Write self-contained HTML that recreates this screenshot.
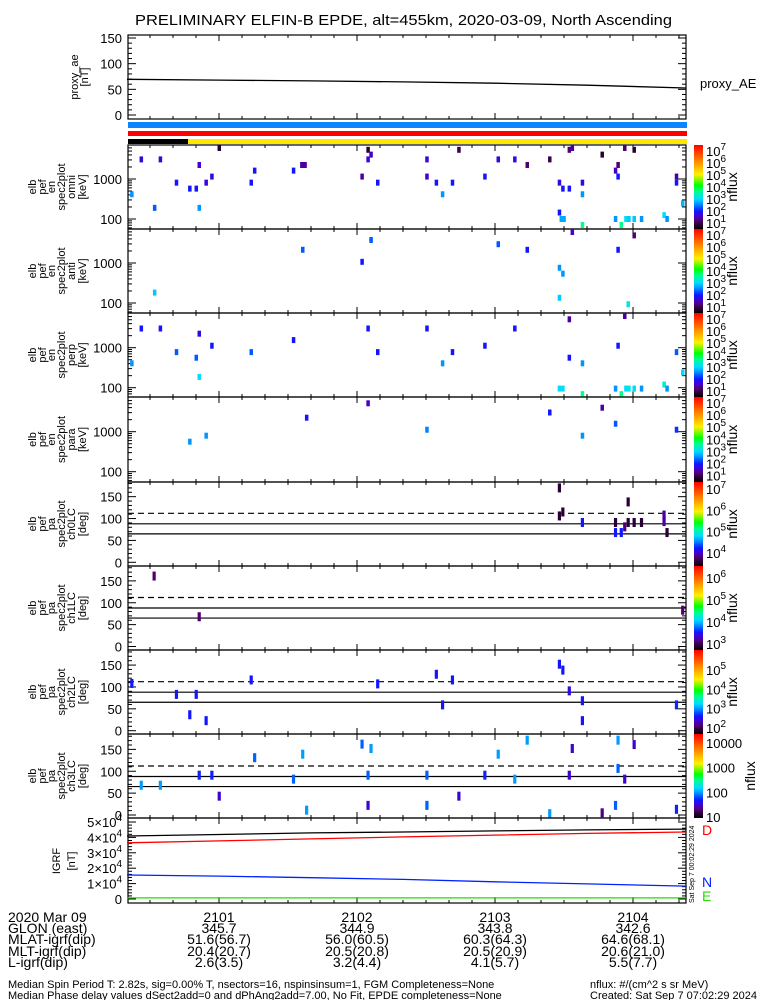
<!DOCTYPE html>
<html><head><meta charset="utf-8"><style>
html,body{margin:0;padding:0;background:#fff;}
svg{display:block;font-family:"Liberation Sans",sans-serif;}
</style></head><body>
<svg id="fig" width="775" height="1000" viewBox="0 0 775 1000" xmlns="http://www.w3.org/2000/svg">
<text x="135" y="25" font-size="15" textLength="537" lengthAdjust="spacingAndGlyphs">PRELIMINARY ELFIN-B EPDE, alt=455km, 2020-03-09, North Ascending</text>
<g id="g"></g>
</svg>
<script>
// ---------- data ----------
const aeTimes=[20,60,100,140,180,220,263];
const aeValues=[69.5,68,66.5,64.5,62,58,52.6];
const igrfTimes=[20,60,100,140,180,220,263];
const igrfTotal=[40900,41900,42900,43500,44200,44900,45400];
const igrfD=[36500,37700,39000,40300,41500,42600,43500];
const igrfN=[15600,14900,13800,12700,11200,9800,8400];
const igrfE=[700,700,700,700,700,700,700];
const tickMinutes=['2101','2102','2103','2104'];
const glonRow=['345.7','344.9','343.8','342.6'];
const mlatRow=['51.6(56.7)','56.0(60.5)','60.3(64.3)','64.6(68.1)'];
const mltRow=['20.4(20.7)','20.5(20.8)','20.5(20.9)','20.6(21.0)'];
const lRow=['2.6(3.5)','3.2(4.4)','4.1(5.7)','5.5(7.7)'];
const omniSpec=[[60.1,6760,0.75],[26.2,3090,1.6],[34.5,3090,1.6],[51.4,2240,1.45],[41.5,810,1.87],[47.3,575,1.87],[50.1,575,1.87],[54.4,810,1.6],[56.9,1150,1.6],[32.0,190,2.22],[51.4,190,2.5],[22.1,415,2.5],[75.5,1620,1.87],[74.0,810,1.87],[92.4,1620,1.87],[97.4,2240,1.3],[96.0,2240,1.3],[124.8,5370,0.75],[126.1,4070,1.45],[124.8,3090,1.6],[122.2,1150,1.3],[129.0,810,1.87],[150.4,3090,1.6],[150.4,1150,1.45],[154.5,810,1.87],[161.5,810,1.87],[157.2,415,2.5],[164.3,5370,0.9],[175.6,1150,1.87],[181.4,3090,1.6],[188.6,3090,1.7],[194.0,2240,1.1],[203.8,3090,0.9],[208.0,810,1.6],[209.5,575,1.87],[212.3,575,1.87],[208.0,145,1.87],[208.8,100,2.6],[210.0,100,2.6],[212.3,5370,1.1],[213.6,6760,1.3],[218.0,810,1.6],[218.0,415,2.5],[218.0,71,3.55],[226.6,4070,0.75],[232.4,1620,1.45],[233.5,2240,1.1],[233.5,1150,1.87],[232.4,100,2.5],[234.9,71,3.55],[236.4,6760,1.1],[240.5,5370,0.75],[236.9,100,2.92],[238.2,100,2.8],[240.5,100,2.8],[243.7,100,2.5],[253.5,125,2.92],[254.8,100,2.5],[258.9,1150,1.3],[258.9,810,1.87],[261.6,245,2.7]];
const antiSpec=[[213.6,6300,1.45],[240.5,4900,1.1],[126.1,3760,2.22],[96.4,2140,2.22],[181.4,2950,2.22],[194.0,2140,1.87],[233.5,2140,1.87],[122.2,1070,1.87],[208.0,760,2.5],[209.5,540,2.5],[32.0,182,2.8],[208.0,135,2.8],[237.9,93,3.1]];
const perpSpec=[[26.2,3020,1.87],[34.5,3020,1.87],[51.4,2240,1.6],[41.5,776,2.22],[50.1,562,2.22],[56.9,1120,1.87],[22.1,407,2.5],[51.4,186,2.92],[74.0,776,2.22],[92.4,1550,1.87],[124.8,3020,1.87],[129.0,776,1.87],[150.4,3020,1.87],[157.2,407,2.5],[161.5,776,1.87],[175.6,1120,1.87],[188.6,3020,1.87],[212.3,5130,1.3],[212.3,562,1.87],[208.0,95,2.92],[209.5,95,2.92],[218.0,407,2.5],[218.0,69,3.55],[232.4,95,2.5],[234.9,69,3.55],[233.5,1120,1.87],[236.4,6600,1.3],[236.9,95,2.92],[238.2,95,3.1],[240.5,95,2.92],[243.7,95,2.5],[253.5,120,3.2],[254.8,95,2.5],[258.9,776,2.22],[261.6,240,2.92]];
const paraSpec=[[124.8,5130,1.45],[98.1,2240,1.87],[203.8,3020,1.87],[226.6,3980,1.3],[232.4,1580,2.22],[150.4,1120,2.4],[54.4,794,2.5],[47.3,562,2.5],[218.0,794,2.5],[258.9,1120,2.0]];
const ch0PA=[[208.0,170,3.53],[208.0,106,3.53],[209.5,115,3.53],[218.0,91,4.16],[232.4,91,3.53],[232.4,68,4.16],[234.9,68,4.16],[236.4,81,3.73],[237.9,138,3.53],[237.9,91,3.53],[240.5,91,3.53],[243.7,91,3.53],[253.5,93,3.85],[253.5,108,3.85],[254.8,68,3.53]];
const ch1PA=[[31.8,161,3.06],[51.4,68,3.06],[261.6,83,3.06]];
const ch2PA=[[22.1,108,2.55],[41.5,83,2.55],[47.3,36.5,2.55],[50.1,83,2.55],[54.4,23,2.55],[74.0,116,2.55],[129.0,107,2.55],[154.5,129,2.55],[157.2,59,2.55],[161.5,116,2.55],[208.0,152,2.55],[209.5,138.5,2.55],[212.3,91,2.4],[218.0,68.5,2.55],[218.0,23,2.55],[258.9,59,2.6]];
const ch3PA=[[26.2,68,1.96],[34.5,68,1.96],[51.4,91,1.66],[56.9,91,1.66],[60.1,43,1.46],[75.5,131,1.82],[92.4,82,1.82],[96.4,139,1.96],[98.1,11,1.96],[122.2,162,1.82],[126.1,152,1.96],[124.8,91,1.82],[124.8,22,1.46],[150.4,91,1.82],[150.4,22,1.82],[164.3,43,1.46],[175.6,91,1.66],[181.4,139,1.96],[188.6,82,1.96],[194.0,171,1.96],[203.8,3,1.96],[212.3,91,1.46],[213.6,152,1.46],[226.6,5,1.29],[232.4,22,1.82],[233.5,171,1.96],[233.5,106.5,1.82],[236.4,82,1.46],[240.5,161,1.46],[258.9,13,1.66]];
const lossCone=[65,65];
const antiLossCone=[112,112];
const perpLine=[88,88];

// ---------- helpers ----------
const NS='http://www.w3.org/2000/svg';
const G=document.getElementById('g');
const X0=128,X1=686;
function xT(t){return 81+t*2.3;}
function mk(tag,attrs,parent){const e=document.createElementNS(NS,tag);for(const k in attrs)e.setAttribute(k,attrs[k]);(parent||G).appendChild(e);return e;}
function txt(s,x,y,size,attrs,parent){const e=mk('text',Object.assign({x:x,y:y,'font-size':size},attrs||{}),parent);e.textContent=s;return e;}
const stops=[[0,[0,0,0]],[0.05,[40,0,50]],[0.1,[80,0,110]],[0.15,[70,0,200]],[0.21,[20,20,255]],[0.26,[0,90,255]],[0.30,[0,150,255]],[0.36,[0,220,255]],[0.45,[0,255,140]],[0.52,[0,255,0]],[0.65,[255,240,0]],[0.8,[255,140,0]],[1,[255,0,0]]];
function cmap(f){f=Math.max(0,Math.min(1,f));for(let i=1;i<stops.length;i++){if(f<=stops[i][0]){const a=stops[i-1],b=stops[i];const u=(f-a[0])/(b[0]-a[0]);const c=a[1].map((v,j)=>Math.round(v+(b[1][j]-v)*u));return 'rgb('+c.join(',')+')';}}return 'rgb(255,0,0)';}
function timeTicks(top,bot,grp){for(let t=30;t<=260;t+=10){const x=xT(t);const L=(t%60===0)?6:3;mk('line',{x1:x,y1:bot,x2:x,y2:bot-L,stroke:'#000'},grp);mk('line',{x1:x,y1:top,x2:x,y2:top+L,stroke:'#000'},grp);}}
function frame(top,bot,name){const g=mk('g',{});mk('rect',{x:X0,y:top,width:X1-X0,height:bot-top,fill:'none',stroke:'#000','stroke-width':1.2},g);timeTicks(top,bot,g);return g;}
function ytick(g,y,L){mk('line',{x1:X0,y1:y,x2:X0+L,y2:y,stroke:'#000'},g);mk('line',{x1:X1,y1:y,x2:X1-L,y2:y,stroke:'#000'},g);}
function ylabel(lines,xs,cy,g){lines.forEach((s,i)=>{const e=txt(s,xs[i],cy,11,{'text-anchor':'middle',transform:'rotate(-90 '+xs[i]+' '+cy+')'},g);});}
function poly(ts,vs,yf,color,g,name){const p=ts.map((t,i)=>xT(t).toFixed(1)+','+yf(vs[i]).toFixed(1)).join(' ');const e=mk('polyline',{points:p,fill:'none',stroke:color,'stroke-width':1.3},g);}
const LX=[36,46,55,65,75,86];

// ---------- proxy AE ----------
{const top=35,bot=119;const g=frame(top,bot,'proxy-ae-panel');const y=v=>115-v*77/150;
for(let v=0;v<=150;v+=10)ytick(g,y(v),v%50===0?8:4);
[0,50,100,150].forEach(v=>{const e=txt(String(v),122,y(v)+5,13,{'text-anchor':'end'},g);});
poly(aeTimes,aeValues,y,'#000',g,'proxy-ae-line');
ylabel(['proxy_ae','[nT]'],[78,88],77,g);
const l=txt('proxy_AE',700,88,13,{},g);}
{const b1=mk('rect',{x:X0,y:122,width:X1-X0+1,height:6,fill:'#0a84ff'});
const b2=mk('rect',{x:X0,y:131,width:X1-X0+1,height:5,fill:'#ff0000'});
const b3=mk('rect',{x:X0,y:139,width:X1-X0+1,height:5,fill:'#ffe800'});
const b4=mk('rect',{x:X0,y:139,width:60,height:5,fill:'#000'});}

let cbN=0;
function colorbar(top,bot,lo,hi,labels,nfx,name){cbN++;const id='cg'+cbN;const defs=mk('defs',{});const lg=mk('linearGradient',{id:id,x1:0,y1:1,x2:0,y2:0},defs);
stops.forEach(s=>mk('stop',{offset:s[0],'stop-color':cmap(s[0])},lg));
const g=mk('g',{});
mk('rect',{x:694,y:top,width:9,height:bot-top,fill:'url(#'+id+')'},g);
labels.forEach(L=>{const y=bot-(L[0]-lo)/(hi-lo)*(bot-top);
 if(L[1]){txt(L[1],706,y+6,13,{},g);}else{const e=mk('text',{x:706,y:y+6,'font-size':13},g);e.textContent='10';const s=mk('tspan',{dy:-6,'font-size':10},e);s.textContent=String(L[0]);}});
txt('nflux',nfx,(top+bot)/2,14,{'text-anchor':'middle',transform:'rotate(-90 '+nfx+' '+((top+bot)/2)+')'},g);}

function specPanel(top,bot,y100,data,lines,name){const g=frame(top,bot,name);const lo=0.4,hi=7.4;
const y=E=>y100-(Math.log10(E)-2)*40;
for(let d=1;d<=4;d++)for(let m=1;m<10;m++){const v=m*Math.pow(10,d);const yy=y(v);if(yy>top+1&&yy<bot-1)ytick(g,yy,m===1?8:4);}
[100,1000].forEach(v=>{const e=txt(String(v),122,y(v)+5,13,{'text-anchor':'end'},g);});
data.forEach(d=>{const yy=y(d[1]);const r=mk('rect',{x:xT(d[0])-1.7,y:Math.max(top,yy-3),width:3.5,height:6,fill:cmap((d[2]-lo)/(hi-lo))},g);
 });
ylabel(lines,LX,(top+bot)/2,g);
colorbar(top,bot,lo,hi,[[1],[2],[3],[4],[5],[6],[7]],737,name+'-colorbar');}
specPanel(145,229,219,omniSpec,['elb','pef','en','spec2plot','omni','[keV]'],'omni-spectrum-panel');
specPanel(229,313,303,antiSpec,['elb','pef','en','spec2plot','anti','[keV]'],'anti-spectrum-panel');
specPanel(313,397,387.7,perpSpec,['elb','pef','en','spec2plot','perp','[keV]'],'perp-spectrum-panel');
specPanel(397,482,471.7,paraSpec,['elb','pef','en','spec2plot','para','[keV]'],'para-spectrum-panel');

function paPanel(top,bot,y0,data,lo,hi,labels,nfx,ch,name){const g=frame(top,bot,name);const y=p=>y0-p*0.4375;
for(let v=0;v<=180;v+=10){const yy=y(v);if(yy>top+1)ytick(g,yy,v%50===0?8:4);}
[0,50,100,150].forEach(v=>{const e=txt(String(v),122,y(v)+5,13,{'text-anchor':'end'},g);});
const d1=mk('line',{x1:X0,y1:y(antiLossCone[0]),x2:X1,y2:y(antiLossCone[1]),stroke:'#000','stroke-dasharray':'6,4','stroke-width':1.2},g);
const d2=mk('line',{x1:X0,y1:y(perpLine[0]),x2:X1,y2:y(perpLine[1]),stroke:'#000','stroke-width':1.2},g);
const d3=mk('line',{x1:X0,y1:y(lossCone[0]),x2:X1,y2:y(lossCone[1]),stroke:'#000','stroke-width':1.2},g);
data.forEach(d=>{const yy=y(d[1]);const r=mk('rect',{x:xT(d[0])-1.6,y:Math.max(top,yy-4.5),width:3.2,height:9,fill:cmap((d[2]-lo)/(hi-lo))},g);
 });
ylabel(['elb','pef','pa','spec2plot',ch,'[deg]'],LX,(top+bot)/2,g);
colorbar(top,bot,lo,hi,labels,nfx,name+'-colorbar');}
paPanel(482,566,562.3,ch0PA,3.33,7.29,[[4],[5],[6],[7]],737,'ch0LC','ch0-pitch-angle-panel');
paPanel(566,650,646.5,ch1PA,2.68,6.5,[[3],[4],[5],[6]],737,'ch1LC','ch1-pitch-angle-panel');
paPanel(650,734,730.7,ch2PA,1.63,6.0,[[2],[3],[4],[5]],737,'ch2LC','ch2-pitch-angle-panel');
paPanel(734,818,815,ch3PA,0.92,4.32,[[1,'10'],[2,'100'],[3,'1000'],[4,'10000']],755,'ch3LC','ch3-pitch-angle-panel');

{const top=818,bot=903;const g=frame(top,bot,'igrf-panel');const y=v=>899-v*77/50000;
for(let v=0;v<=50000;v+=2000){const yy=y(v);ytick(g,yy,v%10000===0?8:4);}
[0,1,2,3,4,5].forEach(k=>{const yy=y(k*10000)+5;let e;if(k===0){e=txt('0',122,yy,13,{'text-anchor':'end'},g);}else{e=mk('text',{x:122,y:yy,'font-size':13,'text-anchor':'end'},g);e.textContent=k+'\u00d710';const s=mk('tspan',{dy:-6,'font-size':10},e);s.textContent='4';}
 });
poly(igrfTimes,igrfTotal,y,'#000',g,'igrf-total-line');
poly(igrfTimes,igrfD,y,'#ff0000',g,'igrf-d-line');
poly(igrfTimes,igrfN,y,'#0022ff',g,'igrf-n-line');
poly(igrfTimes,igrfE,y,'#22dd00',g,'igrf-e-line');
ylabel(['IGRF','[nT]'],[60,75],861,g);
const D=txt('D',702,835,14,{fill:'#ff0000'},g);
const N=txt('N',702,887,14,{fill:'#0022ff'},g);
const E=txt('E',702,901,14,{fill:'#22dd00'},g);
txt('Sat Sep  7 00:02:29 2024',694,903,7,{transform:'rotate(-90 694 903)'},g);}

{const g=mk('g',{});
const rows=[['2020 Mar 09',tickMinutes],['GLON (east)',glonRow],['MLAT-igrf(dip)',mlatRow],['MLT-igrf(dip)',mltRow],['L-igrf(dip)',lRow]];
const ys=[922,933,944,956,967];
rows.forEach((r,i)=>{txt(r[0],8,ys[i],14,{},g);r[1].forEach((s,j)=>{const e=txt(s,xT(60*(j+1)),ys[i],14,{'text-anchor':'middle'},g);});});
txt('Median Spin Period T: 2.82s, sig=0.00% T, nsectors=16, nspinsinsum=1, FGM Completeness=None',8,988,11,{},g);
txt('Median Phase delay values dSect2add=0 and dPhAng2add=7.00, No Fit, EPDE completeness=None',8,999,11,{},g);
txt('nflux: #/(cm^2 s sr MeV)',590,988,11,{},g);
txt('Created: Sat Sep  7 07:02:29 2024',590,999,11,{},g);}
</script>
</body></html>
